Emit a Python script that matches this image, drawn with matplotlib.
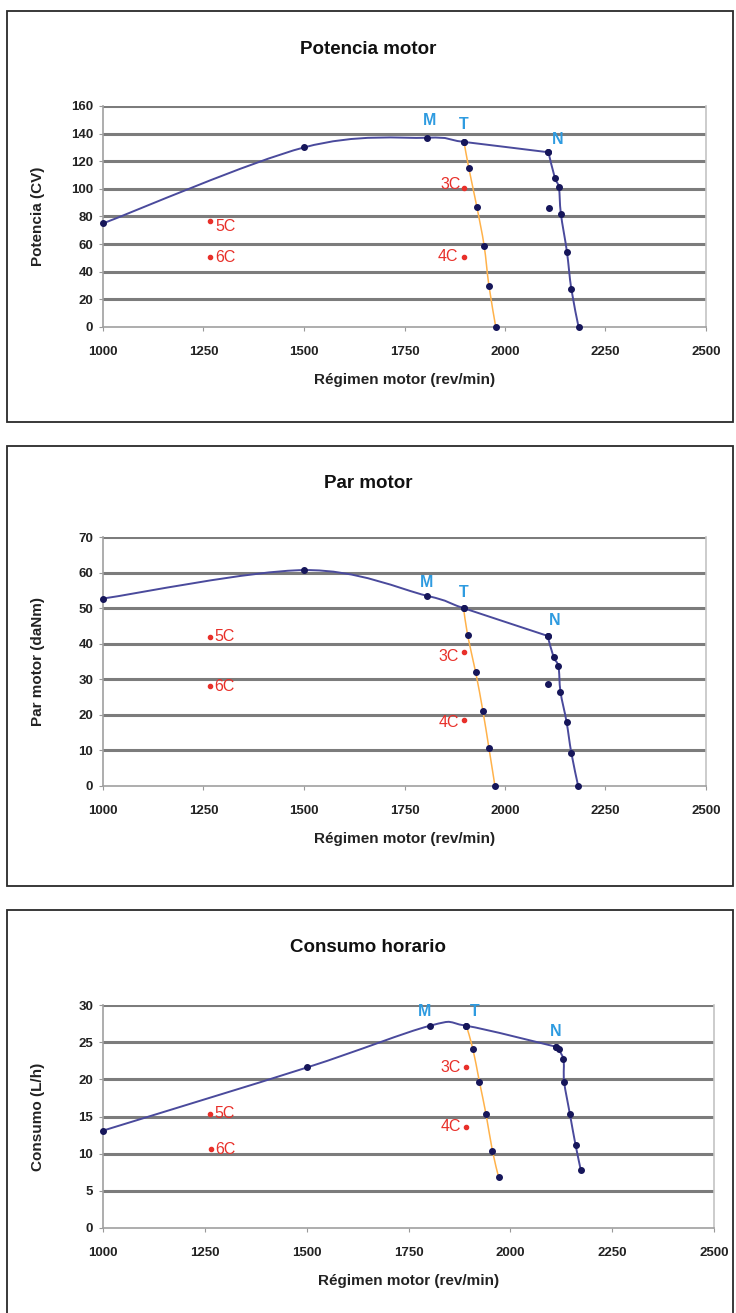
import matplotlib
matplotlib.use('Agg')
import matplotlib.pyplot as plt
import numpy as np
from matplotlib.path import Path
from matplotlib.patches import PathPatch, Rectangle

plt.rcParams['font.family'] = ['Liberation Sans', 'DejaVu Sans']

# ---------------- data ----------------
rpm_ticks = [1000, 1250, 1500, 1750, 2000, 2250, 2500]
gear_labels = ['3C', '4C', '5C', '6C']
point_labels = ['M', 'T', 'N']

# Potencia motor (CV)
pot_full_rpm = [1000, 1500, 1805, 1898, 2108]
pot_full_val = [75, 130, 137, 134, 126.5]
pot_T_rpm = [1898, 1910, 1930, 1948, 1960, 1977]
pot_T_val = [134, 115, 87, 59, 30, 0]
pot_N_rpm = [2108, 2124, 2134, 2139, 2154, 2165, 2183]
pot_N_val = [126.5, 108, 101, 82, 54.5, 27.5, 0]
pot_extra_rpm = [2110]
pot_extra_val = [86]
pot_gear_rpm = [1898, 1898, 1266, 1266]
pot_gear_val = [100.5, 51, 76.5, 51]
pot_yticks = [0, 20, 40, 60, 80, 100, 120, 140, 160]

# Par motor (daNm)
par_full_rpm = [1000, 1501, 1805, 1897, 2106]
par_full_val = [52.7, 60.7, 53.5, 50.0, 42.2]
par_T_rpm = [1897, 1907, 1927, 1945, 1960, 1975]
par_T_val = [50.0, 42.4, 32.0, 21.1, 10.7, 0]
par_N_rpm = [2106, 2121, 2133, 2138, 2153, 2165, 2182]
par_N_val = [42.2, 36.2, 33.6, 26.5, 18.1, 9.3, 0]
par_extra_rpm = [2106]
par_extra_val = [28.6]
par_gear_rpm = [1898, 1898, 1266, 1266]
par_gear_val = [37.6, 18.6, 42.0, 28.2]
par_yticks = [0, 10, 20, 30, 40, 50, 60, 70]

# Consumo horario (L/h)
con_full_rpm = [1000, 1501, 1802, 1892, 2111]
con_full_val = [13.1, 21.6, 27.2, 27.2, 24.4]
con_T_rpm = [1892, 1908, 1924, 1940, 1956, 1971]
con_T_val = [27.2, 24.1, 19.7, 15.4, 10.4, 6.9]
con_N_rpm = [2111, 2130, 2132, 2146, 2160, 2173]
con_N_val = [24.4, 22.8, 19.7, 15.4, 11.2, 7.8]
con_extra_rpm = [2120]
con_extra_val = [24.1]
con_gear_rpm = [1891, 1891, 1263, 1265]
con_gear_val = [21.6, 13.6, 15.4, 10.6]
con_yticks = [0, 5, 10, 15, 20, 25, 30]

# ---------------- figure ----------------
W, H = 736, 1313
fig = plt.figure(figsize=(W / 100, H / 100), dpi=100)

BLUE = '#4a4a9c'
ORANGE = '#ffb24a'
MARK = '#16165a'
RED = '#e8302a'
LBLUE = '#2e9be0'
GRID = '#7c7c7c'


def px_axes(left, right, top, bottom):
    return fig.add_axes([left / W, 1 - bottom / H, (right - left) / W, (bottom - top) / H])


def smooth_path(xs, ys, ax):
    # Excel-like smoothed line: Catmull-Rom Bezier computed in display space
    pts = ax.transData.transform(np.column_stack([xs, ys]))
    n = len(pts)
    verts = [pts[0]]
    codes = [Path.MOVETO]
    for i in range(n - 1):
        p0 = pts[i - 1] if i > 0 else pts[i]
        p1 = pts[i]
        p2 = pts[i + 1]
        p3 = pts[i + 2] if i + 2 < n else pts[i + 1]
        c1 = p1 + (p2 - p0) / 6.0
        c2 = p2 - (p3 - p1) / 6.0
        verts += [c1, c2, p2]
        codes += [Path.CURVE4] * 3
    verts = ax.transData.inverted().transform(np.array(verts))
    return Path(verts, codes)


def panel(box_top, box_bottom, ax_rect, title, title_y, ylabel, yticks,
          full, tline, nline, extra, gears, mtn_off, gear_off):
    bx0, bx1 = 7, 733
    fig.add_artist(Rectangle((bx0 / W, 1 - box_bottom / H), (bx1 - bx0) / W,
                             (box_bottom - box_top) / H, transform=fig.transFigure,
                             fill=False, edgecolor='#2a2a2a', linewidth=1.3))
    left, right, top, bottom = ax_rect
    ax = px_axes(left, right, top, bottom)
    ax.set_xlim(1000, 2500)
    ax.set_ylim(yticks[0], yticks[-1])
    ax.set_xticks(rpm_ticks)
    ax.set_yticks(yticks)
    ax.set_xticklabels([str(t) for t in rpm_ticks], fontsize=9.5, fontweight='bold', color='#222222')
    ax.set_yticklabels([str(t) for t in yticks], fontsize=9.5, fontweight='bold', color='#222222')
    ax.tick_params(axis='x', length=3, width=0.8, color='#999999', pad=11, direction='out')
    ax.tick_params(axis='y', length=3, width=0.8, color='#999999', pad=4, direction='out')
    for y in yticks[1:]:
        ax.axhline(y, color=GRID, linewidth=2.2, zorder=1)
    ax.spines['top'].set_visible(False)
    ax.spines['left'].set_color('#a0a0a0')
    ax.spines['bottom'].set_color('#a0a0a0')
    ax.spines['right'].set_color('#c4c4c4')
    for s in ['left', 'bottom', 'right']:
        ax.spines[s].set_linewidth(1.2)
    ax.set_facecolor('white')

    ax.add_patch(PathPatch(smooth_path(full[0], full[1], ax), fill=False,
                           edgecolor=BLUE, linewidth=1.4, zorder=3))
    ax.add_patch(PathPatch(smooth_path(tline[0], tline[1], ax), fill=False,
                           edgecolor=ORANGE, linewidth=1.1, zorder=3))
    ax.add_patch(PathPatch(smooth_path(nline[0], nline[1], ax), fill=False,
                           edgecolor=BLUE, linewidth=1.4, zorder=3))
    for xs, ys in [full, tline, nline, extra]:
        ax.plot(xs, ys, linestyle='none', marker='o', markersize=4.0,
                color=MARK, zorder=5, clip_on=False)
    mtn_x = [full[0][2], full[0][3], full[0][4]]
    mtn_y = [full[1][2], full[1][3], full[1][4]]
    for lab, x, y, off in zip(point_labels, mtn_x, mtn_y, mtn_off):
        ax.annotate(lab, (x, y), xytext=off, textcoords='offset pixels',
                    ha='center', va='center', fontsize=11.5, fontweight='bold',
                    color=LBLUE, zorder=6)
    gx, gy = gears
    ax.plot(gx, gy, linestyle='none', marker='o', markersize=3.0, color=RED, zorder=5)
    for lab, x, y, off in zip(gear_labels, gx, gy, gear_off):
        ha = 'right' if off[0] < 0 else 'left'
        ax.annotate(lab, (x, y), xytext=off, textcoords='offset pixels',
                    ha=ha, va='center', fontsize=11.5, color=RED, zorder=6)

    fig.text(368 / W, 1 - title_y / H, title, ha='center', va='center',
             fontsize=13.5, fontweight='bold', color='#111111')
    fig.text((left + right) / 2 / W, 1 - (bottom + 53) / H, 'Régimen motor (rev/min)',
             ha='center', va='center', fontsize=11, fontweight='bold', color='#222222')
    fig.text(38 / W, 1 - (top + bottom) / 2 / H, ylabel, ha='center', va='center',
             rotation=90, fontsize=11, fontweight='bold', color='#222222')
    return ax


panel(11, 422, (103, 706, 106, 327), 'Potencia motor', 50, 'Potencia (CV)', pot_yticks,
      (pot_full_rpm, pot_full_val), (pot_T_rpm, pot_T_val), (pot_N_rpm, pot_N_val),
      (pot_extra_rpm, pot_extra_val), (pot_gear_rpm, pot_gear_val),
      [(3, 17), (0, 17), (9, 13)],
      [(-3, 4), (-6, 0), (5, -5), (5, -1)])

panel(446, 886, (103, 706, 537, 786), 'Par motor', 483, 'Par motor (daNm)', par_yticks,
      (par_full_rpm, par_full_val), (par_T_rpm, par_T_val), (par_N_rpm, par_N_val),
      (par_extra_rpm, par_extra_val), (par_gear_rpm, par_gear_val),
      [(0, 13), (0, 16), (7, 15)],
      [(-5, -4), (-5, -3), (4, 0), (4, -1)])

panel(910, 1330, (103, 714, 1005, 1228), 'Consumo horario', 948, 'Consumo (L/h)', con_yticks,
      (con_full_rpm, con_full_val), (con_T_rpm, con_T_val), (con_N_rpm, con_N_val),
      (con_extra_rpm, con_extra_val), (con_gear_rpm, con_gear_val),
      [(-5, 14), (8, 14), (0, 15)],
      [(-5, 0), (-5, 0), (4, 0), (4, 0)])

fig.savefig('out.png', dpi=100, facecolor='white')
